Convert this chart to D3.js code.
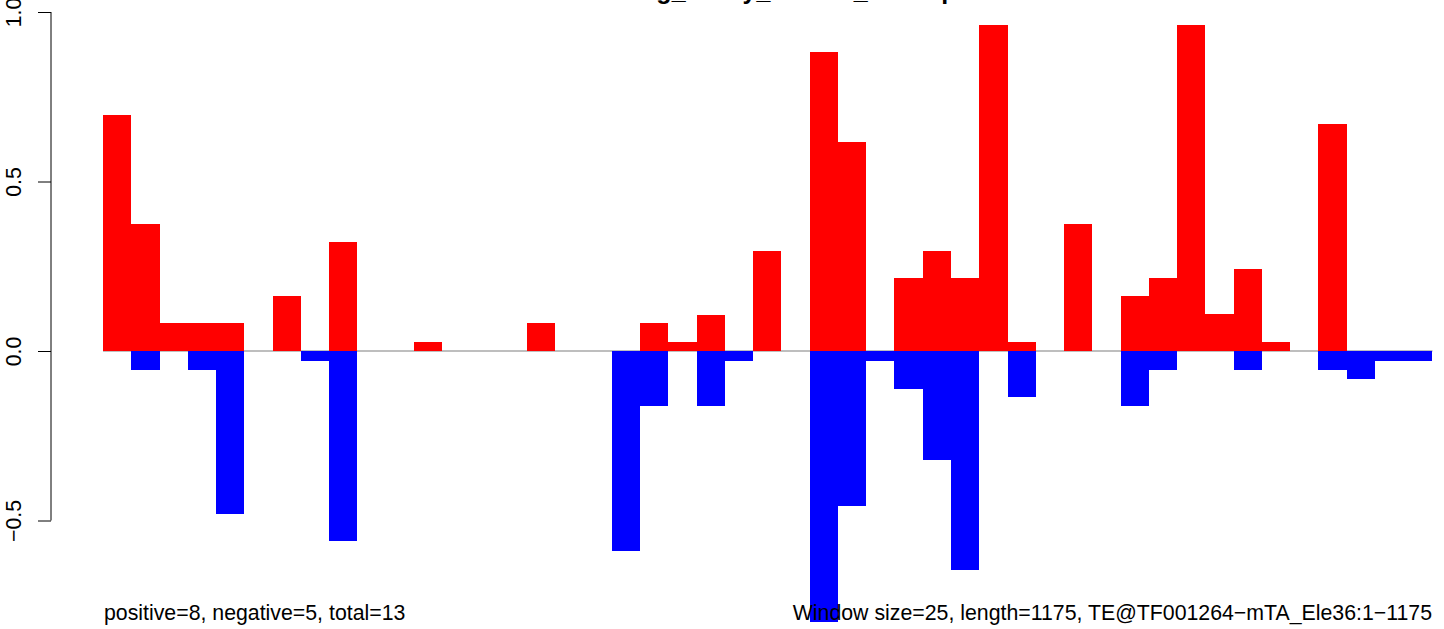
<!DOCTYPE html>
<html>
<head>
<meta charset="utf-8">
<script src="https://cdn.jsdelivr.net/npm/d3@7"></script>
<style>
  html, body { margin: 0; padding: 0; background: #fff; overflow: hidden; }
  svg { display: block; }
  text { font-family: "Liberation Sans", Arial, Helvetica, sans-serif; }
</style>
</head>
<body>
<script>
// ---- data ----
const seqLength = 1175;
const windowSize = 25;
const windowIndex = d3.range(47);
const positiveValues = [0.696,0.375,0.083,0.083,0.083,0,0.162,0,0.322,0,0,0.026,0,0,0,0.083,0,0,0,0.082,0.026,0.107,0,0.294,0,0.883,0.616,0,0.214,0.294,0.214,0.962,0.026,0,0.375,0,0.162,0.215,0.962,0.109,0.242,0.026,0,0.670,0,0,0];
const negativeValues = [0,-0.056,0,-0.056,-0.481,0,0,-0.029,-0.56,0,0,0,0,0,0,0,0,0,-0.591,-0.163,0,-0.163,-0.03,0,0,-0.80,-0.456,-0.03,-0.111,-0.323,-0.645,0,-0.137,0,0,0,-0.162,-0.056,0,0,-0.056,0,0,-0.056,-0.083,-0.03,-0.03];
const yTicks = [-0.5, 0.0, 0.5, 1.0];
const yTickLabels = ["\u22120.5", "0.0", "0.5", "1.0"];
const titleText = "Seedling_heavy_treated_overlap";
const leftNote = "positive=8, negative=5, total=13";
const rightNote = "Window size=25, length=1175, TE@TF001264\u2212mTA_Ele36:1\u22121175";

// ---- layout ----
const W = 1444, H = 629;
const svg = d3.select("body").append("svg").attr("width", W).attr("height", H);

const x = d3.scaleLinear().domain([0, seqLength]).range([103, 1431.5]);
const y = d3.scaleLinear().domain([-0.5, 1]).range([520.5, 12]);

// zero line
svg.append("line")
  .attr("x1", x(0)).attr("x2", x(seqLength) + 1)
  .attr("y1", y(0)).attr("y2", y(0))
  .attr("stroke", "#A9A9A9").attr("stroke-width", 1.5);

// positive bars
svg.append("g").selectAll("rect")
  .data(windowIndex.filter(i => positiveValues[i] > 0))
  .join("rect")
  .attr("x", i => x(i * windowSize))
  .attr("width", i => x((i + 1) * windowSize) - x(i * windowSize))
  .attr("y", i => y(positiveValues[i]))
  .attr("height", i => y(0) - y(positiveValues[i]))
  .attr("fill", "#FF0000")
  .attr("shape-rendering", "crispEdges");

// negative bars
svg.append("g").selectAll("rect")
  .data(windowIndex.filter(i => negativeValues[i] < 0))
  .join("rect")
  .attr("x", i => x(i * windowSize))
  .attr("width", i => x((i + 1) * windowSize) - x(i * windowSize))
  .attr("y", y(0))
  .attr("height", i => y(negativeValues[i]) - y(0))
  .attr("fill", "#0000FF")
  .attr("shape-rendering", "crispEdges");

// y axis
const axisX = 51;
const yAxis = d3.axisLeft(y).tickValues(yTicks).tickSize(13)
  .tickFormat((d, i) => yTickLabels[i]);
const ga = svg.append("g").attr("transform", `translate(${axisX},0)`).call(yAxis);
ga.select(".domain").attr("d", `M0,${y(1)}V${y(-0.5)}`).attr("stroke", "#000").attr("stroke-width", 1);
ga.selectAll(".tick line").attr("stroke", "#000").attr("stroke-width", 1);
ga.selectAll(".tick text")
  .attr("x", null).attr("dy", null)
  .attr("transform", "translate(-30,0) rotate(-90)")
  .attr("text-anchor", "middle")
  .attr("font-size", 21.3)
  .attr("fill", "#000");

// title (mostly outside the top edge, as in the reference)
svg.append("text")
  .attr("x", 762).attr("y", -1)
  .attr("text-anchor", "middle")
  .attr("font-weight", "bold")
  .attr("font-size", 25)
  .text(titleText);

// bottom notes
svg.append("text").attr("x", 104).attr("y", 620)
  .attr("font-size", 21.3).attr("fill", "#000").text(leftNote);
svg.append("text").attr("x", 1432).attr("y", 620)
  .attr("text-anchor", "end")
  .attr("font-size", 21.3).attr("fill", "#000").text(rightNote);
</script>
</body>
</html>
